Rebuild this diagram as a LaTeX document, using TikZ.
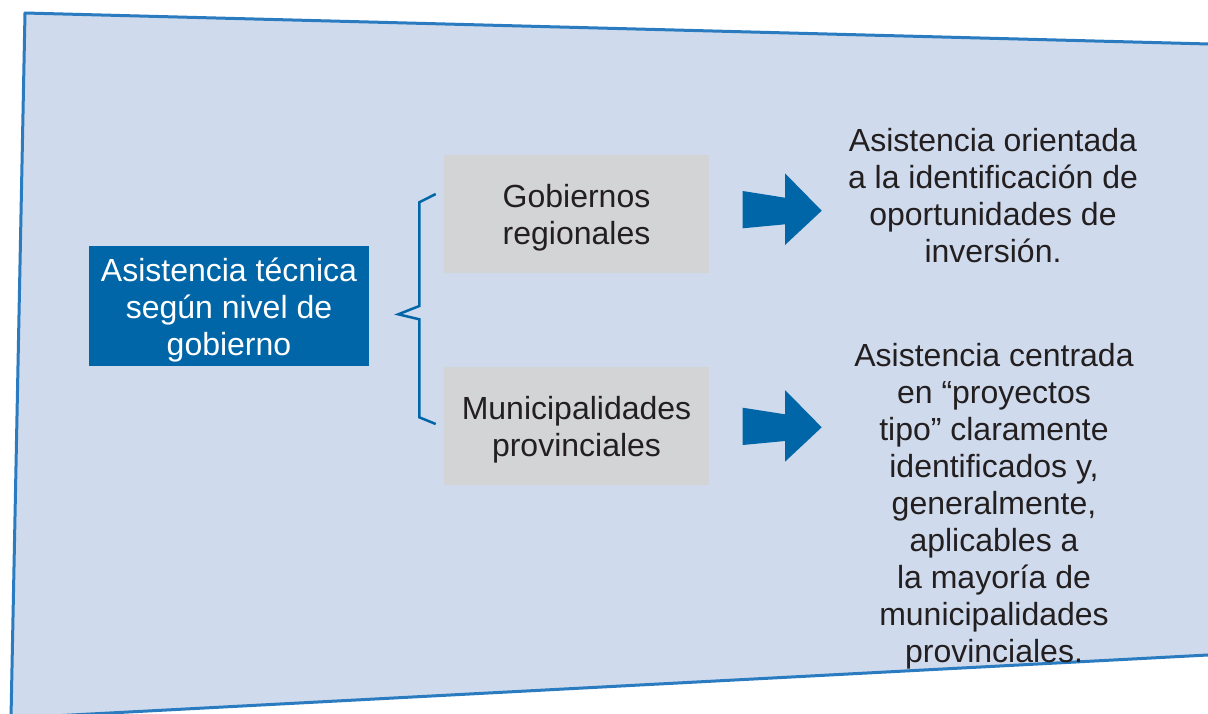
\documentclass[tikz,border=0pt]{standalone}
\usepackage{fontspec}
\setmainfont{Liberation Sans}
\definecolor{panelfill}{HTML}{CFDAEC}
\definecolor{panelline}{HTML}{2A7BBF}
\definecolor{darkblue}{HTML}{0066A8}
\definecolor{boxgray}{HTML}{D3D4D6}
\definecolor{textdark}{HTML}{231F20}
\tikzset{
  bigtext/.style={font=\fontsize{32}{37}\selectfont, align=center, text=textdark},
  mainbox/.style={bigtext, fill=darkblue, text=white, minimum width=280pt, minimum height=120pt, inner sep=0pt},
  levelbox/.style={bigtext, fill=boxgray, minimum width=265pt, minimum height=118pt, inner sep=0pt}
}
\begin{document}
\begin{tikzpicture}[x=1pt, y=-1pt]
    \useasboundingbox (0,0) rectangle (1208,713);
    \clip (0,0) rectangle (1208,713);

    % Background panel
    \filldraw[fill=panelfill, draw=panelline, line width=3pt, line join=round]
        (25,13) -- (1240,44.8) -- (1240,653.3) -- (11,718.2) -- cycle;

    % Left - main box
    \node[mainbox] (asistencia) at (229,306)
        {\rule{0pt}{35.5pt}Asistencia técnica\\según nivel de\\gobierno\rule[-10pt]{0pt}{0pt}};

    % Brace
    \draw[darkblue, line width=2.5pt, line join=miter]
        (435.7,194) -- (419.3,202.3) -- (419.3,306) -- (398.3,314.3)
        -- (419.3,319.3) -- (419.3,417.3) -- (435.7,424);

    % Middle - levels of government
    \node[levelbox] (regionales) at (576.5,214)
        {\rule{0pt}{32pt}Gobiernos\\regionales\rule[-8.2pt]{0pt}{0pt}};
    \node[levelbox] (provinciales) at (576.5,426)
        {\rule{0pt}{32pt}Municipalidades\\provinciales\rule[-8.2pt]{0pt}{0pt}};

    % Block arrows
    \fill[darkblue] (742.7,191) -- (785,197.7) -- (785,173.3) -- (821.7,210.7)
        -- (785,245) -- (785,224.3) -- (742.7,228.3) -- cycle;
    \fill[darkblue] (742.7,407.7) -- (785,414.3) -- (785,390) -- (821.7,427.3)
        -- (785,461.7) -- (785,441) -- (742.7,445) -- cycle;

    % Right - descriptions
    \node[bigtext] (oportunidades) at (993,195.5) {Asistencia orientada\\a la identificación de\\oportunidades de\\inversión.};
    \node[bigtext] (proyectostipo) at (994,506) {Asistencia centrada\\en “proyectos\\tipo” claramente\\identificados y,\\generalmente,\\aplicables a\\la mayoría de\\municipalidades\\provinciales.};
\end{tikzpicture}
\end{document}
